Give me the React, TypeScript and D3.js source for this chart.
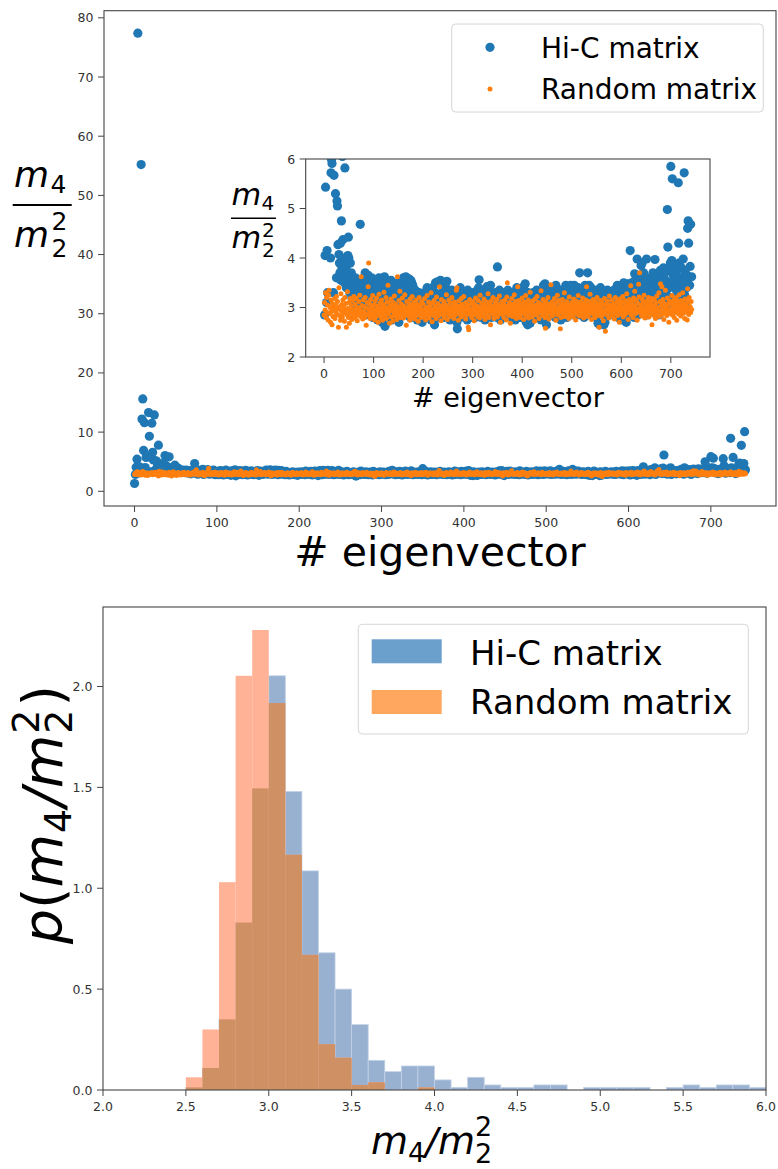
import React from 'react';
import * as d3 from 'd3';

// m4/m2^2 per eigenvector, Hi-C matrix (index = eigenvector number)
const hicM4: number[] = [
  1.32, 2.85, 4.05, 5.43, 77.4, 3.1, 4.15, 3.3, 55.2, 12.2,
  15.6, 6.9, 11.6, 4.0, 5.72, 5.99, 5.91, 13.3, 9.3, 3.3,
  5.67, 11.5, 6.6, 5.3, 12.9, 3.6, 5.15, 5.05, 4.27, 7.8,
  4.07, 3.9, 3.7, 4.3, 3.55, 4.75, 3.8, 6.05, 4.37, 3.95,
  3.75, 3.5, 5.82, 4.0, 3.65, 3.4, 3.85, 3.6, 4.05, 4.42,
  4.0, 3.45, 3.3, 3.9, 3.55, 3.7, 3.2, 3.5, 3.35, 3.6,
  3.3, 3.45, 3.15, 3.6, 3.25, 3.4, 3.05, 3.5, 2.95, 3.3,
  3.35, 3.1, 3.55, 4.68, 3.2, 3.0, 3.45, 2.9, 3.3, 3.15,
  3.6, 3.05, 3.25, 3.7, 2.85, 3.4, 3.1, 3.55, 3.0, 3.65,
  3.2, 2.9, 3.45, 3.1, 3.35, 2.95, 3.6, 3.15, 2.8, 3.3,
  2.95, 3.3, 2.8, 3.15, 3.5, 2.9, 3.05, 3.4, 2.75, 3.2, 3.0, 3.6, 2.85, 3.1, 3.35, 2.95, 3.25, 2.7, 3.45, 3.05,
  3.15, 2.9, 3.62, 2.62, 3.3, 3.0, 2.85, 3.2, 3.5, 2.95, 3.1, 2.8, 3.4, 3.05, 2.9, 3.55, 3.25, 2.75, 3.0, 3.35,
  2.85, 3.15, 3.45, 2.95, 3.1, 2.8, 3.3, 3.05, 2.9, 3.5, 3.2, 2.7, 3.0, 3.4, 2.95, 3.15, 2.85, 3.25, 3.1, 3.45,
  3.6, 3.0, 2.9, 3.55, 3.3, 3.62, 3.1, 2.85, 3.5, 3.2, 2.95, 3.58, 3.05, 3.4, 2.8, 3.55, 3.15, 3.5, 2.9, 3.45,
  3.25, 2.95, 3.1, 2.8, 3.35, 3.0, 2.9, 3.2, 2.75, 3.15, 3.05, 2.85, 3.3, 2.95, 3.1, 2.8, 3.2, 3.0, 2.7, 3.25,
  2.95, 3.15, 2.85, 3.3, 3.05, 2.9, 3.2, 2.8, 3.4, 3.0, 3.1, 2.95, 3.25, 2.85, 3.35, 3.05, 2.75, 3.15, 3.0, 3.4,
  2.9, 3.2, 3.05, 2.65, 3.3, 3.5, 2.95, 3.1, 2.8, 3.52, 3.25, 3.0, 2.9, 3.48, 3.15, 3.55, 2.85, 3.05, 3.3, 2.95,
  3.5, 3.1, 2.8, 3.2, 3.0, 2.9, 3.4, 3.05, 3.53, 2.85, 3.15, 3.3, 2.95, 3.1, 2.75, 3.25, 3.0, 2.9, 3.35, 3.05,
  2.8, 3.2, 3.0, 2.95, 3.1, 2.85, 3.3, 3.05, 2.7, 2.57, 3.15, 2.9, 3.25, 3.0, 2.8, 3.4, 3.1, 2.95, 3.2, 2.85,
  3.05, 3.3, 2.9, 3.15, 2.8, 3.0, 3.25, 2.95, 3.1, 2.75, 3.35, 3.0, 2.85, 3.2, 3.05, 2.9, 3.15, 2.8, 3.3, 3.0,
  3.1, 2.9, 3.25, 2.95, 3.05, 2.8, 3.2, 3.0, 2.85, 3.35, 3.1, 2.95, 3.4, 3.56, 3.2, 2.9, 3.05, 2.8, 3.3, 3.0,
  2.85, 3.15, 3.35, 2.95, 3.1, 2.75, 3.25, 3.05, 2.9, 3.42, 3.2, 3.0, 2.85, 3.15, 3.3, 2.95, 3.45, 3.1, 2.8, 3.25,
  3.0, 2.9, 3.2, 3.05, 2.85, 3.3, 3.1, 2.95, 3.25, 2.8, 3.82, 3.15, 3.0, 2.9, 3.35, 3.05, 2.75, 3.2, 2.95, 3.1,
  3.3, 2.85, 3.05, 3.15, 2.9, 3.25, 3.0, 2.8, 3.2, 3.1, 2.95, 3.35, 3.05, 2.9, 3.15, 2.85, 3.25, 3.0, 3.1, 2.8,
  3.2, 2.95, 3.3, 3.05, 2.9, 3.15, 2.75, 3.25, 3.0, 3.4, 2.85, 3.1, 3.3, 2.95, 3.2, 3.05, 2.8, 3.35, 3.0, 3.15,
  2.9, 3.25, 3.05, 3.42, 2.85, 3.15, 3.48, 2.95, 2.7, 3.2, 3.0, 2.65, 3.3, 3.1, 2.9, 3.15, 2.68, 3.05, 3.25, 2.95,
  3.1, 2.85, 3.3, 3.0, 2.9, 3.2, 3.05, 2.8, 3.15, 3.35, 2.95, 3.1, 3.0, 2.85, 3.25, 2.9, 3.05, 3.2, 2.75, 3.1,
  3.3, 2.95, 3.15, 3.45, 2.9, 3.05, 3.48, 2.8, 3.2, 2.65, 3.1, 2.95, 3.35, 3.0, 2.85, 3.15, 3.4, 3.05, 2.9, 3.25,
  3.0, 3.1, 2.85, 3.3, 2.95, 3.2, 3.05, 2.8, 3.45, 3.15, 2.9, 3.0, 3.25, 2.95, 3.1, 2.85, 3.35, 3.05, 2.75, 3.2,
  2.9, 3.15, 3.3, 3.0, 2.85, 3.2, 3.1, 2.95, 3.45, 3.05, 2.8, 3.25, 3.0, 3.4, 2.9, 3.15, 3.05, 2.85, 3.45, 3.1,
  3.2, 2.95, 3.35, 3.05, 2.9, 3.45, 3.1, 2.85, 3.25, 3.0, 3.3, 2.9, 3.15, 3.4, 2.95, 3.05, 3.7, 3.2, 2.85, 3.1,
  3.0, 3.35, 2.9, 3.15, 3.05, 2.8, 3.25, 3.45, 2.95, 3.1, 3.2, 2.85, 3.7, 3.05, 3.3, 3.45, 2.9, 3.15, 3.0, 3.4,
  2.95, 3.2, 3.1, 2.85, 3.3, 3.05, 2.9, 3.25, 3.0, 2.8, 3.15, 3.35, 2.95, 2.68, 3.1, 3.2, 2.65, 3.0, 3.4, 2.9,
  3.05, 3.25, 2.85, 3.15, 3.0, 2.65, 3.3, 2.7, 2.95, 3.2, 3.1, 2.9, 3.35, 3.05, 2.85, 3.2, 3.0, 3.15, 2.95, 3.3,
  3.1, 2.9, 3.25, 3.05, 2.85, 3.35, 3.15, 2.95, 3.2, 3.0, 3.3, 2.9, 3.45, 3.1, 2.8, 3.25, 3.4, 3.05, 3.35, 2.95,
  3.2, 3.45, 2.75, 3.3, 3.1, 3.5, 2.9, 3.35, 3.05, 3.4, 2.7, 3.25, 3.48, 3.0, 3.3, 2.85, 3.45, 3.1, 4.15, 3.35,
  2.9, 3.5, 3.2, 3.05, 3.4, 3.3, 2.8, 3.68, 3.55, 3.15, 3.2, 3.0, 3.98, 2.85, 3.6, 3.25, 3.5, 3.1, 3.3, 3.45,
  3.85, 3.0, 3.9, 6.13, 3.35, 3.7, 3.2, 2.9, 3.55, 3.3, 3.05, 3.98, 2.85, 3.6, 3.25, 3.5, 3.1, 3.45, 2.95, 3.35,
  3.2, 3.55, 3.0, 3.4, 3.7, 3.1, 3.6, 2.9, 3.97, 3.3, 3.5, 3.15, 3.4, 3.05, 3.65, 3.25, 2.85, 3.45, 3.2, 3.75,
  3.35, 3.6, 3.1, 3.5, 3.0, 3.8, 3.3, 3.45, 3.7, 3.15, 3.55, 3.4, 3.25, 4.98, 4.22, 3.05, 3.75, 3.4, 3.2, 3.9,
  5.85, 3.5, 3.95, 5.6, 3.85, 3.65, 3.1, 3.7, 3.45, 3.0, 3.6, 3.35, 3.75, 3.2, 3.55, 5.52, 4.3, 3.9, 3.05, 3.4,
  3.6, 3.3, 3.8, 3.15, 8.95, 3.98, 3.5, 5.72, 3.25, 3.7, 3.0, 3.55, 3.4, 3.65, 4.6, 4.75, 4.3, 7.77, 3.45, 3.83,
  4.68, 10.07, 3.62,
];

// m4/m2^2 per eigenvector, random matrix
const randM4: number[] = [
  2.85, 3.1, 2.95, 3.3, 2.8, 3.2, 2.9, 3.05, 2.75, 3.25, 3.35, 2.88, 3.0, 2.7, 3.15, 2.92, 2.65, 3.08, 2.82, 3.0,
  2.95, 3.18, 2.78, 3.05, 2.9, 3.22, 2.86, 3.12, 2.97, 2.6, 3.4, 2.84, 3.02, 2.74, 3.28, 2.93, 3.06, 2.81, 3.15, 2.89,
  3.0, 2.72, 3.2, 2.94, 3.08, 2.6, 2.86, 3.32, 2.98, 2.8, 3.1, 2.68, 2.92, 3.18, 2.83, 3.04, 2.76, 2.96, 3.14, 2.88,
  3.22, 2.91, 2.79, 3.06, 2.97, 3.18, 2.84, 2.73, 3.0, 2.93, 3.12, 2.86, 3.25, 2.95, 2.82, 3.62, 3.04, 2.89, 2.77, 3.15,
  2.92, 3.02, 2.8, 3.2, 2.87, 2.64, 2.99, 3.1, 2.85, 3.42, 3.9, 2.94, 3.07, 2.78, 3.16, 2.9, 3.01, 2.83, 3.24, 2.96,
  2.88, 3.05, 2.75, 3.13, 2.95, 2.82, 3.19, 2.91, 3.03, 2.7, 2.97, 3.27, 2.86, 3.09, 2.93, 2.8, 3.15, 2.99, 2.74, 3.06,
  2.9, 3.31, 2.84, 3.02, 2.96, 3.2, 2.78, 3.11, 2.92, 3.45, 2.87, 3.0, 2.68, 3.08, 2.94, 3.17, 2.81, 3.04, 2.95, 2.72,
  3.1, 2.89, 3.23, 2.97, 2.83, 3.06, 2.93, 2.76, 3.62, 3.01, 2.86, 3.14, 2.91, 3.33, 2.8, 2.98, 3.07, 2.88, 3.19, 2.94,
  2.79, 3.03, 2.92, 3.26, 2.85, 2.96, 2.64, 3.12, 2.9, 3.0, 2.83, 3.08, 2.95, 2.74, 3.17, 2.89, 3.04, 2.81, 3.22, 2.97,
  2.87, 3.1, 2.93, 2.77, 3.02, 2.9, 3.15, 2.84, 2.99, 3.06, 2.72, 2.94, 3.2, 2.86, 3.03, 2.91, 2.8, 3.12, 2.96, 2.88,
  3.07, 2.82, 2.95, 3.18, 2.9, 2.75, 3.01, 2.93, 3.24, 2.85, 2.98, 3.11, 2.79, 2.92, 3.05, 2.87, 3.3, 2.96, 2.71, 3.09,
  2.94, 2.84, 3.14, 2.99, 2.88, 3.03, 2.78, 3.21, 2.91, 2.97, 3.08, 2.83, 2.95, 3.42, 2.89, 3.0, 2.73, 3.16, 2.92, 3.04,
  2.86, 2.98, 3.12, 2.8, 2.93, 3.06, 2.88, 3.26, 2.95, 2.76, 3.01, 2.9, 3.15, 2.84, 2.97, 3.09, 2.82, 2.94, 3.2, 2.87,
  3.02, 2.92, 2.78, 3.11, 2.96, 2.85, 3.05, 3.35, 3.4, 2.9, 2.99, 2.74, 3.13, 2.88, 3.03, 2.95, 2.81, 3.18, 2.93, 3.07,
  2.89, 2.97, 3.22, 2.84, 3.0, 2.91, 2.77, 3.1, 2.94, 2.86, 3.04, 2.6, 2.55, 2.98, 3.16, 2.87, 2.93, 3.07, 2.8, 2.96,
  3.12, 2.85, 2.99, 2.73, 3.06, 2.92, 3.19, 2.88, 2.95, 3.03, 2.82, 3.14, 2.9, 3.0, 2.79, 3.25, 2.94, 2.87, 3.09, 2.97,
  2.83, 3.05, 2.91, 3.17, 2.96, 2.76, 3.02, 2.89, 3.11, 2.94, 2.84, 3.28, 2.98, 2.8, 3.07, 2.92, 2.65, 3.13, 2.9, 3.0,
  2.87, 3.2, 2.95, 2.78, 3.04, 2.93, 3.1, 2.85, 2.99, 3.16, 2.81, 2.96, 3.06, 2.88, 3.23, 2.92, 2.7, 3.01, 2.95, 3.12,
  2.86, 2.98, 3.08, 2.8, 2.94, 3.15, 2.89, 3.03, 2.75, 3.21, 3.5, 2.92, 3.0, 2.84, 3.1, 2.96, 2.68, 3.05, 2.9, 3.18,
  2.97, 2.82, 3.07, 2.91, 3.26, 2.87, 2.99, 3.12, 2.78, 2.94, 3.04, 3.42, 2.85, 3.14, 2.93, 3.0, 2.8, 3.09, 2.96, 2.88,
  3.19, 2.9, 3.02, 2.76, 3.11, 2.95, 2.86, 3.24, 2.98, 2.83, 3.06, 2.92, 3.15, 2.79, 3.0, 2.94, 3.31, 2.88, 3.08, 2.97,
  2.81, 3.13, 2.93, 3.03, 2.87, 2.72, 3.17, 2.96, 3.05, 2.85, 3.22, 2.91, 2.99, 3.1, 2.78, 2.95, 3.07, 2.89, 3.34, 2.94,
  3.01, 2.84, 3.16, 2.92, 2.97, 3.08, 2.8, 2.58, 3.12, 2.9, 3.03, 2.86, 3.2, 2.95, 2.77, 3.06, 2.93, 2.99, 3.46, 2.88,
  3.11, 2.83, 2.96, 3.04, 2.9, 3.18, 2.87, 3.0, 2.74, 3.09, 2.94, 3.25, 2.85, 2.98, 3.14, 2.91, 3.02, 2.57, 2.8, 3.07,
  2.93, 3.16, 2.88, 3.01, 2.96, 3.3, 2.82, 3.08, 2.92, 2.99, 3.12, 2.86, 2.95, 3.05, 2.78, 3.21, 2.9, 3.03, 2.97, 2.84,
  3.1, 2.94, 3.02, 2.81, 3.17, 2.89, 2.97, 3.07, 2.75, 3.13, 2.92, 3.0, 2.86, 3.24, 2.95, 3.06, 2.83, 2.98, 3.11, 2.9,
  3.04, 2.87, 3.19, 2.93, 2.79, 3.09, 2.96, 3.01, 2.85, 3.15, 3.42, 2.91, 3.05, 2.82, 2.97, 3.12, 2.88, 3.27, 2.94, 3.0,
  2.76, 3.08, 2.92, 3.16, 2.86, 3.03, 2.95, 2.8, 3.11, 2.9, 2.99, 3.2, 2.84, 3.06, 2.93, 2.6, 3.01, 2.88, 3.14, 2.96,
  2.82, 3.1, 2.94, 3.04, 2.73, 2.91, 3.18, 2.87, 2.52, 3.07, 2.97, 2.85, 3.13, 2.92, 3.0, 2.79, 3.23, 2.95, 3.05, 2.89,
  2.98, 3.15, 2.83, 3.02, 2.93, 3.09, 2.77, 2.96, 3.2, 2.88, 3.01, 2.91, 3.12, 2.84, 2.97, 3.06, 2.7, 3.17, 2.94, 3.03,
  2.87, 3.1, 2.95, 3.22, 2.81, 3.0, 2.92, 3.14, 2.86, 3.05, 2.97, 3.28, 2.9, 3.08, 2.76, 2.99, 3.16, 2.93, 3.03, 3.44,
  2.85, 3.12, 2.96, 3.06, 2.8, 3.19, 2.91, 3.33, 3.02, 2.88, 3.14, 2.94, 2.74, 3.09, 2.97, 3.47, 3.21, 3.7, 2.9, 3.05,
  3.0, 2.83, 3.17, 2.95, 3.1, 2.87, 3.25, 2.99, 2.79, 3.07, 2.92, 3.13, 2.86, 3.04, 2.96, 3.2, 2.81, 3.01, 2.93, 3.11,
  2.89, 3.06, 2.65, 3.18, 2.94, 3.02, 2.84, 3.15, 2.97, 2.78, 3.09, 2.91, 3.23, 2.87, 3.0, 2.95, 3.3, 2.82, 3.12, 3.48,
  2.93, 3.04, 3.42, 2.86, 3.16, 2.98, 2.76, 3.08, 2.9, 3.35, 2.96, 3.01, 2.84, 3.19, 2.92, 3.06, 2.7, 3.13, 2.95, 2.88,
  3.1, 2.97, 3.24, 2.85, 3.03, 2.93, 3.15, 2.8, 2.99, 3.07, 2.9, 3.2, 2.74, 3.01, 2.94, 3.12, 2.87, 3.26, 2.96, 3.05,
  2.83, 3.14, 2.92, 3.0, 3.3, 2.88, 3.08, 2.95, 2.78, 3.17, 2.91, 3.03, 2.97, 2.75, 3.38, 3.11, 2.86, 3.2, 2.94, 3.02,
  2.9, 3.12, 2.96,
];

const mainXTicks = [0, 100, 200, 300, 400, 500, 600, 700];
const mainYTicks = [0, 10, 20, 30, 40, 50, 60, 70, 80];
const insetXTicks = [0, 100, 200, 300, 400, 500, 600, 700];
const insetYTicks = [2, 3, 4, 5, 6];
const insetYDomain = [2, 6];

// histogram (density), bins of width 0.1 starting at these edges
const binStarts = [
  2.5, 2.6, 2.7, 2.8, 2.9, 3.0, 3.1, 3.2, 3.3, 3.4, 3.5, 3.6, 3.7, 3.8, 3.9, 4.0, 4.1, 4.2,
  4.3, 4.4, 4.5, 4.6, 4.7, 4.8, 4.9, 5.0, 5.1, 5.2, 5.3, 5.4, 5.5, 5.6, 5.7, 5.8, 5.9,
];
const binWidth = 0.1;
const hicDensity = [
  0.013, 0.109, 0.35, 0.83, 1.495, 2.053, 1.48, 1.086, 0.68, 0.5, 0.324, 0.147, 0.091, 0.119, 0.119, 0.05, 0.013, 0.063,
  0.025, 0.0125, 0.0125, 0.025, 0.025, 0, 0.0125, 0.0125, 0.0125, 0.0125, 0, 0.0125, 0.025, 0.0125, 0.025, 0.025, 0.0125,
];
const randDensity = [
  0.063, 0.3, 1.03, 2.053, 2.28, 1.918, 1.166, 0.67, 0.227, 0.16, 0.025, 0.038, 0, 0, 0.0125, 0, 0, 0,
  0, 0, 0, 0, 0, 0, 0, 0, 0, 0, 0, 0, 0, 0, 0, 0, 0,
];
const histXTicks = [2.0, 2.5, 3.0, 3.5, 4.0, 4.5, 5.0, 5.5, 6.0];
const histYTicks = [0.0, 0.5, 1.0, 1.5, 2.0];
const histXDomain = [2, 6];
const seriesLabels = ['Hi-C matrix', 'Random matrix'];

const FONT = "'DejaVu Sans', 'Liberation Sans', sans-serif";
const TICK_COLOR = '#333';
const SPINE = '#444';
const BLUE = '#1f77b4';
const ORANGE = '#ff7f0e';

function padDomain(lo: number, hi: number): [number, number] {
  const d = (hi - lo) * 0.05;
  return [lo - d, hi + d];
}

function Frame({ x0, x1, y0, y1 }: { x0: number; x1: number; y0: number; y1: number }) {
  return (
    <rect x={x0} y={y0} width={x1 - x0} height={y1 - y0} fill="none" stroke={SPINE} strokeWidth={1.1} />
  );
}

function XTicks({ scale, ticks, y, fmt }: { scale: any; ticks: number[]; y: number; fmt: (v: number) => string }) {
  return (
    <g>
      {ticks.map((t) => (
        <g key={t}>
          <line x1={scale(t)} x2={scale(t)} y1={y} y2={y + 6} stroke={SPINE} strokeWidth={1} />
          <text x={scale(t)} y={y + 20.5} textAnchor="middle" fontFamily={FONT} fontSize={12.5} fill={TICK_COLOR}>
            {fmt(t)}
          </text>
        </g>
      ))}
    </g>
  );
}

function YTicks({ scale, ticks, x, fmt }: { scale: any; ticks: number[]; x: number; fmt: (v: number) => string }) {
  return (
    <g>
      {ticks.map((t) => (
        <g key={t}>
          <line x1={x - 6} x2={x} y1={scale(t)} y2={scale(t)} stroke={SPINE} strokeWidth={1} />
          <text x={x - 10.5} y={scale(t) + 4.5} textAnchor="end" fontFamily={FONT} fontSize={12.5} fill={TICK_COLOR}>
            {fmt(t)}
          </text>
        </g>
      ))}
    </g>
  );
}

export default function App() {
  const W = 778;
  const H = 1169;
  const n = hicM4.length;
  const idx = d3.range(n);

  // main scatter
  const main = { left: 104, right: 776, top: 10.7, bottom: 506 };
  const xDom = padDomain(0, Math.max(hicM4.length, randM4.length) - 1);
  const allVals = hicM4.concat(randM4);
  const xMain = d3.scaleLinear().domain(xDom).range([main.left, main.right]);
  const yMain = d3
    .scaleLinear()
    .domain(padDomain(d3.min(allVals) as number, d3.max(allVals) as number))
    .range([main.bottom, main.top]);

  // inset
  const ins = { left: 305.7, right: 710, top: 159, bottom: 357 };
  const xIns = d3.scaleLinear().domain(xDom).range([ins.left, ins.right]);
  const yIns = d3.scaleLinear().domain(insetYDomain).range([ins.bottom, ins.top]);

  // histogram
  const hist = { left: 103, right: 766, top: 607, bottom: 1090 };
  const maxD = Math.max(d3.max(hicDensity) as number, d3.max(randDensity) as number);
  const xH = d3.scaleLinear().domain(histXDomain).range([hist.left, hist.right]);
  const yH = d3.scaleLinear().domain([0, maxD * 1.05]).range([hist.bottom, hist.top]);

  const fmtInt = (v: number) => String(v);
  const fmt1 = (v: number) => v.toFixed(1);

  return (
    <svg
      width={W}
      height={H}
      viewBox={`0 0 ${W} ${H}`}
      style={{ position: 'absolute', left: 0, top: 0, background: '#fff' }}
    >
      <defs>
        <clipPath id="insClip">
          <rect x={ins.left} y={ins.top} width={ins.right - ins.left} height={ins.bottom - ins.top} />
        </clipPath>
        <clipPath id="histClip">
          <rect x={hist.left} y={hist.top} width={hist.right - hist.left} height={hist.bottom - hist.top} />
        </clipPath>
      </defs>
      <rect x={0} y={0} width={W} height={H} fill="#fff" />

      {/* ===== Main scatter ===== */}
      <g>
        {idx.map((i) => (
          <circle key={'hb' + i} cx={xMain(i)} cy={yMain(hicM4[i])} r={4.6} fill={BLUE} />
        ))}
        {randM4.map((v, i) => (
          <circle key={'ro' + i} cx={xMain(i)} cy={yMain(v)} r={2.5} fill={ORANGE} />
        ))}
      </g>
      <Frame x0={main.left} x1={main.right} y0={main.top} y1={main.bottom} />
      <XTicks scale={xMain} ticks={mainXTicks} y={main.bottom} fmt={fmtInt} />
      <YTicks scale={yMain} ticks={mainYTicks} x={main.left} fmt={fmtInt} />

      {/* main y label: m4 / m2^2 */}
      <g fontFamily={FONT} fill="#000">
        <text x={14} y={186.7} fontSize={36} fontStyle="italic">m</text>
        <text x={50.5} y={193} fontSize={25}>4</text>
        <line x1={12.7} x2={71.7} y1={205} y2={205} stroke="#000" strokeWidth={2} />
        <text x={14} y={247} fontSize={36} fontStyle="italic">m</text>
        <text x={51.5} y={230} fontSize={25}>2</text>
        <text x={51.5} y={257} fontSize={25}>2</text>
      </g>
      <text x={(main.left + main.right) / 2} y={566} textAnchor="middle" fontFamily={FONT} fontSize={41} fill="#000">
        # eigenvector
      </text>

      {/* main legend */}
      <g>
        <rect x={451.7} y={24} width={311.6} height={88} rx={4} fill="#fff" fillOpacity={0.8} stroke="#d6d6d6" strokeWidth={1} />
        <circle cx={490} cy={47.3} r={4.6} fill={BLUE} />
        <circle cx={490} cy={89} r={2.5} fill={ORANGE} />
        <text x={541} y={58.3} fontFamily={FONT} fontSize={28} fill="#000">{seriesLabels[0]}</text>
        <text x={541} y={99.3} fontFamily={FONT} fontSize={28} fill="#000">{seriesLabels[1]}</text>
      </g>

      {/* ===== Inset ===== */}
      <rect x={ins.left} y={ins.top} width={ins.right - ins.left} height={ins.bottom - ins.top} fill="#fff" />
      <g clipPath="url(#insClip)">
        {idx.map((i) => (
          <circle key={'ib' + i} cx={xIns(i)} cy={yIns(hicM4[i])} r={4.6} fill={BLUE} />
        ))}
        {randM4.map((v, i) => (
          <circle key={'io' + i} cx={xIns(i)} cy={yIns(v)} r={2.5} fill={ORANGE} />
        ))}
      </g>
      <Frame x0={ins.left} x1={ins.right} y0={ins.top} y1={ins.bottom} />
      <XTicks scale={xIns} ticks={insetXTicks} y={ins.bottom} fmt={fmtInt} />
      <YTicks scale={yIns} ticks={insetYTicks} x={ins.left} fmt={fmtInt} />
      <g fontFamily={FONT} fill="#000">
        <text x={231.5} y={205} fontSize={30.5} fontStyle="italic">m</text>
        <text x={261.5} y={210} fontSize={20}>4</text>
        <line x1={231} x2={276} y1={218.3} y2={218.3} stroke="#000" strokeWidth={1.6} />
        <text x={231.5} y={248} fontSize={30.5} fontStyle="italic">m</text>
        <text x={262} y={237} fontSize={20}>2</text>
        <text x={262} y={257} fontSize={20}>2</text>
      </g>
      <text x={(ins.left + ins.right) / 2} y={406.7} textAnchor="middle" fontFamily={FONT} fontSize={27} fill="#000">
        # eigenvector
      </text>

      {/* ===== Histogram ===== */}
      <g clipPath="url(#histClip)">
        {binStarts.map((b, i) =>
          hicDensity[i] > 0 ? (
            <rect
              key={'hh' + i}
              x={xH(b)}
              y={yH(hicDensity[i])}
              width={xH(b + binWidth) - xH(b)}
              height={yH(0) - yH(hicDensity[i])}
              fill="#98b1d1"
              stroke="#c3d2e6"
              strokeWidth={0.8}
            />
          ) : null
        )}
        {binStarts.map((b, i) =>
          randDensity[i] > 0 ? (
            <rect
              key={'hr' + i}
              x={xH(b)}
              y={yH(randDensity[i])}
              width={xH(b + binWidth) - xH(b)}
              height={yH(0) - yH(randDensity[i])}
              fill="#ffb296"
            />
          ) : null
        )}
        {binStarts.map((b, i) => {
          const m = Math.min(hicDensity[i], randDensity[i]);
          return m > 0 ? (
            <rect
              key={'hm' + i}
              x={xH(b)}
              y={yH(m)}
              width={xH(b + binWidth) - xH(b)}
              height={yH(0) - yH(m)}
              fill="#cf9064"
            />
          ) : null;
        })}
      </g>
      <Frame x0={hist.left} x1={hist.right} y0={hist.top} y1={hist.bottom} />
      <XTicks scale={xH} ticks={histXTicks} y={hist.bottom} fmt={fmt1} />
      <YTicks scale={yH} ticks={histYTicks} x={hist.left} fmt={fmt1} />

      {/* hist legend */}
      <g>
        <rect x={358.3} y={624.3} width={390} height={109.7} rx={4} fill="#fff" fillOpacity={0.8} stroke="#d6d6d6" strokeWidth={1} />
        <rect x={371.7} y={639.3} width={70} height={24} fill="#6ca0cc" />
        <rect x={371.7} y={690} width={70} height={24} fill="#ffa75f" />
        <text x={470} y={665} fontFamily={FONT} fontSize={34} fill="#000">{seriesLabels[0]}</text>
        <text x={470} y={714} fontFamily={FONT} fontSize={34} fill="#000">{seriesLabels[1]}</text>
      </g>

      {/* hist x label */}
      <text x={371} y={1154} fontFamily={FONT} fontSize={38} fill="#000">
        <tspan fontStyle="italic">m</tspan>
        <tspan fontSize={27} dy={8}>4</tspan>
        <tspan dy={-8} fontStyle="italic">/</tspan>
        <tspan fontStyle="italic">m</tspan>
        <tspan fontSize={27} dy={9}>2</tspan>
        <tspan fontSize={27} dx={-17.2} dy={-27}>2</tspan>
      </text>

      {/* hist y label (rotated) */}
      <g transform="translate(62, 944) rotate(-90)">
        <text x={0} y={0} fontFamily={FONT} fontSize={55} fill="#000">
          <tspan fontStyle="italic">p</tspan>
          <tspan>(</tspan>
          <tspan fontStyle="italic">m</tspan>
          <tspan fontSize={38} dy={9} dx={1}>4</tspan>
          <tspan dy={-9} dx={2} fontStyle="italic">/</tspan>
          <tspan fontStyle="italic">m</tspan>
          <tspan fontSize={38} dy={10} dx={1}>2</tspan>
          <tspan fontSize={38} dx={-24.2} dy={-33}>2</tspan>
          <tspan dy={23} dx={3}>)</tspan>
        </text>
      </g>
    </svg>
  );
}
